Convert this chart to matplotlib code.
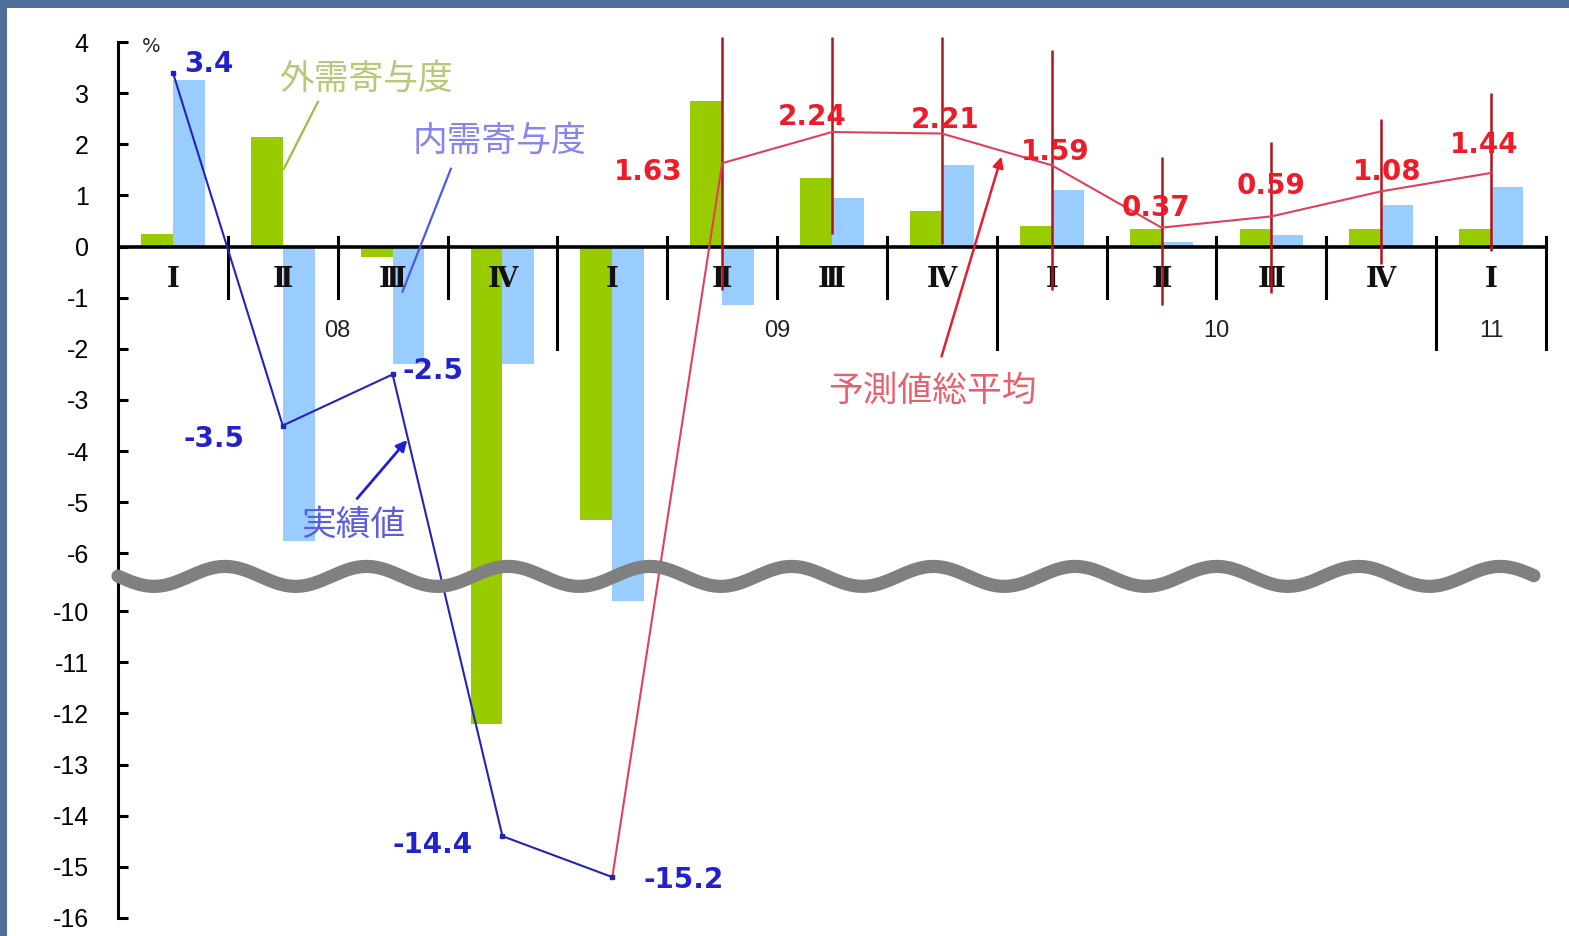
import numpy as np
import matplotlib.pyplot as plt
from matplotlib.patches import Rectangle

# quarters 08 I .. 11 I
quarters = ['Ⅰ', 'Ⅱ', 'Ⅲ', 'Ⅳ', 'Ⅰ', 'Ⅱ', 'Ⅲ', 'Ⅳ', 'Ⅰ', 'Ⅱ', 'Ⅲ', 'Ⅳ', 'Ⅰ']
years = ['08', '09', '10', '11']
year_len = [4, 4, 4, 1]

# contributions (%), bars
ext_demand = [0.25, 2.15, -0.2, -12.2, -5.35, 2.85, 1.35, 0.7, 0.4, 0.35, 0.35, 0.35, 0.35]
dom_demand = [3.25, -5.75, -2.3, -2.3, -9.8, -1.15, 0.95, 1.6, 1.1, 0.08, 0.22, 0.82, 1.17]

# actual growth (08 I - 09 I) and forecast average (09 II - 11 I)
actual = [3.4, -3.5, -2.5, -14.4, -15.2]
forecast_avg = [1.63, 2.24, 2.21, 1.59, 0.37, 0.59, 1.08, 1.44]
forecast_high = [4.1, 4.1, 4.1, 3.85, 1.75, 2.05, 2.5, 3.0]
forecast_low = [-0.85, 0.25, 0.05, -0.85, -1.15, -0.9, -0.35, -0.08]

ticks_upper = [4, 3, 2, 1, 0, -1, -2, -3, -4, -5, -6]
ticks_lower = [-10, -11, -12, -13, -14, -15, -16]

# broken axis: everything below the gap is shifted up
GAP_SHIFT = 2.87


def brk(v):
    v = np.asarray(v, dtype=float)
    return np.where(v < -8, v + GAP_SHIFT, v)


W, H = 1569, 936
fig = plt.figure(figsize=(W / 100, H / 100), dpi=100, facecolor='#4d6f99')
fig.patches.append(Rectangle((7 / W, 0), 1, 1 - 8 / H, transform=fig.transFigure,
                             facecolor='white', edgecolor='none', zorder=-10))
ax = fig.add_axes([118 / W, 1 - 918 / H, (1546 - 118) / W, (918 - 42) / H])
ax.set_facecolor('none')

n = len(quarters)
x = np.arange(n)
bw = 0.29
ax.bar(x - bw, brk(ext_demand), width=bw, align='edge', color='#99cc00', zorder=2)
ax.bar(x, brk(dom_demand), width=bw, align='edge', color='#99ccff', zorder=2)

# axis frame
ax.set_xlim(-0.5, n - 0.5)
ax.set_ylim(float(brk(-16)), 4)
for s in ['top', 'right', 'bottom']:
    ax.spines[s].set_visible(False)
ax.spines['left'].set_linewidth(2.2)
ax.set_xticks([])
ytick_pos = list(ticks_upper) + list(brk(ticks_lower))
ytick_lab = [str(t) for t in ticks_upper + ticks_lower]
ax.set_yticks(ytick_pos, ytick_lab)
ax.tick_params(axis='y', direction='in', length=7, width=2.2, pad=21)
for lab in ax.get_yticklabels():
    lab.set_family(['Liberation Sans', 'DejaVu Sans'])
    lab.set_fontsize(18)
ax.axhline(0, color='black', lw=2.6, zorder=4)

# quarter separators, longer ones at year borders
bounds = np.cumsum(year_len) - 0.5
for b in np.arange(0.5, n, 1.0):
    if np.any(np.isclose(b, bounds)):
        ax.plot([b, b], [0.18, -2.0], color='black', lw=2.2, zorder=4, clip_on=False)
    else:
        ax.plot([b, b], [0.18, -1.0], color='black', lw=2.2, zorder=4)

for i, q in enumerate(quarters):
    ax.text(i, -0.64, q, ha='center', va='center', fontsize=20, fontweight='bold',
            family=['DejaVu Serif', 'Noto Sans CJK JP'], color='#111111', zorder=5)
start = 0
for yr, ln in zip(years, year_len):
    ax.text(start + (ln - 1) / 2, -1.66, yr, ha='center', va='center', fontsize=17,
            family=['Liberation Sans', 'DejaVu Sans'], color='#222222', zorder=5)
    start += ln

# forecast ranges and average
fx = np.arange(len(actual), len(actual) + len(forecast_avg))
ax.vlines(fx, forecast_low, forecast_high, color='#b0141c', lw=1.8, zorder=5, clip_on=False)
ax.plot(np.r_[len(actual) - 1, fx], brk([actual[-1]] + forecast_avg),
        color='#e0405a', lw=1.5, zorder=6)

# actual values
ax_x = np.arange(len(actual))
ax.plot(ax_x, brk(actual), color='#2323b8', lw=1.5, marker='s', ms=3.5, zorder=7)

num_font = dict(fontsize=20, fontweight='bold', family='DejaVu Sans', ha='center', va='center', zorder=8)
act_off = [(0.33, 0.17), (-0.63, -0.26), (0.37, 0.06), (-0.64, -0.18), (0.65, -0.05)]
for i, (v, (dx, dy)) in enumerate(zip(actual, act_off)):
    ax.text(i + dx, float(brk(v + dy)), f'{v:g}', color='#2222cc', **num_font)
fc_off = [(-0.67, -0.17), (-0.18, 0.29), (0.03, 0.27), (0.03, 0.26), (-0.05, 0.39),
          (0.0, 0.6), (0.05, 0.38), (-0.06, 0.55)]
for xi, v, (dx, dy) in zip(fx, forecast_avg, fc_off):
    ax.text(xi + dx, v + dy, f'{v:.2f}', color='#ee1c28', **num_font)

# wave marking the axis break
wx = np.linspace(-0.5, 12.39, 800)
ax.plot(wx, -6.45 + 0.195 * np.cos(2 * np.pi * (wx - 0.473) / 1.29),
        color='#808080', lw=9.5, solid_capstyle='round', zorder=9, clip_on=False)

# callouts
jp = ['Noto Sans CJK JP', 'DejaVu Sans']
ax.text(-0.2, 3.92, '%', fontsize=14, family='DejaVu Sans', ha='center', va='center', color='#222222')
ax.text(1.76, 3.27, '外需寄与度', fontsize=25, family=jp, color='#b8c878', ha='center', va='center')
ax.plot([1.32, 1.01], [2.83, 1.52], color='#a5b84a', lw=1.6, zorder=8)
ax.text(2.97, 2.05, '内需寄与度', fontsize=25, family=jp, color='#8585ea', ha='center', va='center')
ax.plot([2.53, 2.09], [1.52, -0.88], color='#4a5ae8', lw=1.6, zorder=8)
ax.text(1.64, -5.46, '実績値', fontsize=25, family=jp, color='#5c5ee0', ha='center', va='center')
ax.annotate('', xy=(2.15, -3.74), xytext=(1.66, -4.97),
            arrowprops=dict(arrowstyle='-|>', color='#2020d0', lw=2, mutation_scale=16), zorder=8)
ax.text(6.91, -2.83, '予測値総平均', fontsize=25, family=jp, color='#e8606e', ha='center', va='center')
ax.annotate('', xy=(7.55, 1.81), xytext=(6.99, -2.2),
            arrowprops=dict(arrowstyle='-|>', color='#e02030', lw=1.8, mutation_scale=16), zorder=8)

fig.savefig('out.png', dpi=100, facecolor=fig.get_facecolor())
